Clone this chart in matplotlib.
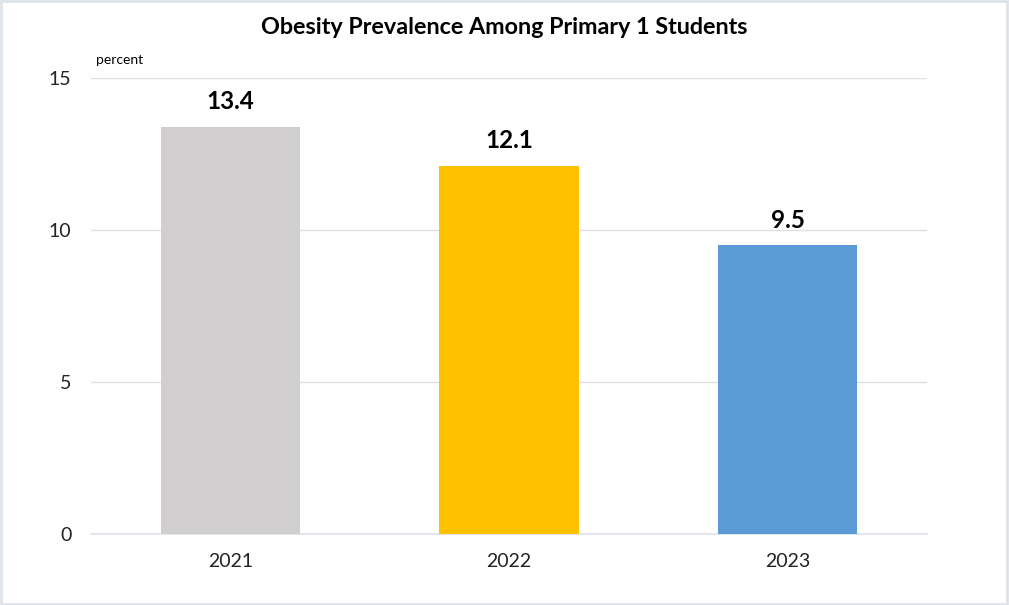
import matplotlib.pyplot as plt
from matplotlib.patches import Rectangle

years = ["2021", "2022", "2023"]
values = [13.4, 12.1, 9.5]
colors = ["#d0cece", "#ffc000", "#5b9bd5"]

plt.rcParams['font.family'] = ['Lato', 'DejaVu Sans']

fig = plt.figure(figsize=(10.09, 6.05), dpi=100)
ax = fig.add_axes([91/1009, 71/605, 836/1009, 456/605])

x = range(len(years))
bars = ax.bar(x, values, width=0.5, color=colors, zorder=3)

for xi, v in zip(x, values):
    ax.text(xi, v + 0.45, f"{v}", ha="center", va="bottom",
            fontsize=17.5, fontweight="bold", color="black")

ax.set_xlim(-0.5, 2.5)
ax.set_ylim(0, 15)
ax.set_yticks([0, 5, 10, 15])
ax.set_xticks(list(x))
ax.set_xticklabels(years)
ax.tick_params(axis="both", length=0, labelsize=14, colors="#222222")
ax.tick_params(axis="x", pad=14)
ax.tick_params(axis="y", pad=14)
ax.grid(axis="y", color="#e0e0e0", linewidth=1, zorder=0)
for s in ["top", "right", "left"]:
    ax.spines[s].set_visible(False)
ax.spines["bottom"].set_color("#dde3ea")
ax.spines["bottom"].set_linewidth(1.2)

fig.text(96/1009, 1 - 60/605, "percent", fontsize=10, va="center", ha="left")
fig.text(504/1009, 1 - 27/605, "Obesity Prevalence Among Primary 1 Students",
         fontsize=16.8, fontweight="bold", ha="center", va="center")

# thin grey frame round the figure
fig.patches.append(Rectangle((0.001, 0.002), 0.997, 0.996, transform=fig.transFigure,
                             fill=False, edgecolor="#dde3ea", linewidth=2))

fig.savefig("out.png", dpi=100)
